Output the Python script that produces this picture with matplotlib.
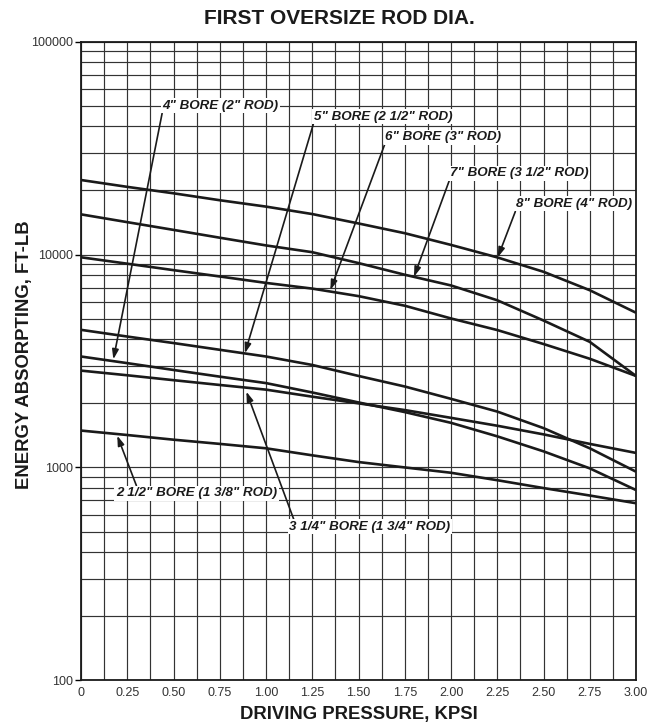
import numpy as np
import matplotlib
matplotlib.use("Agg")
import matplotlib.pyplot as plt

plt.rcParams['font.family'] = ['Liberation Sans', 'DejaVu Sans']

# driving pressure, kpsi
pressure = [0, 0.25, 0.5, 0.75, 1.0, 1.25, 1.5, 1.75, 2.0, 2.25, 2.5, 2.75, 3.0]

# energy absorbing, ft-lb
bore_8 = [22400, 20800, 19400, 18000, 16800, 15500, 14000, 12600, 11100, 9700, 8300, 6800, 5330]
bore_7 = [15450, 14200, 13060, 12000, 11040, 10260, 9120, 8040, 7160, 6100, 4900, 3890, 2690]
bore_6 = [9710, 9060, 8450, 7890, 7360, 6920, 6380, 5750, 5010, 4420, 3800, 3240, 2690]
bore_5 = [4430, 4120, 3840, 3570, 3320, 3030, 2690, 2400, 2100, 1830, 1530, 1230, 955]
bore_4 = [3320, 3090, 2870, 2670, 2490, 2250, 2020, 1820, 1620, 1400, 1190, 990, 783]
bore_3q = [2850, 2710, 2570, 2440, 2320, 2150, 2000, 1860, 1710, 1570, 1430, 1290, 1170]
bore_2h = [1490, 1420, 1350, 1290, 1230, 1140, 1060, 1000, 944, 871, 800, 738, 679]

curves = [bore_8, bore_7, bore_6, bore_5, bore_4, bore_3q, bore_2h]

# label text, label position (kpsi, ft-lb), arrow tip (kpsi, ft-lb), arrow start on the box
labels = ['4" BORE (2" ROD)', '5" BORE (2 1/2" ROD)', '6" BORE (3" ROD)',
          '7" BORE (3 1/2" ROD)', '8" BORE (4" ROD)',
          '2 1/2" BORE (1 3/8" ROD)', '3 1/4" BORE (1 3/4" ROD)']
label_pos = [(0.754, 50000), (1.633, 44500), (1.958, 35600), (2.368, 24100),
             (2.665, 17300), (0.625, 757), (1.562, 527)]
arrow_tip = [(0.175, 3220), (0.886, 3440), (1.348, 6820), (1.80, 7870),
             (2.253, 9710), (0.196, 1410), (0.894, 2270)]
arrow_rel = [(0.0, 0.0), (0.0, 0.0), (0.0, 0.0), (0.0, 0.0), (0.0, 0.0),
             (0.13, 1.0), (0.03, 1.0)]

fig = plt.figure(figsize=(6.49, 7.25), dpi=100)
ax = fig.add_axes([81 / 649, 1 - 680.3 / 725, 555 / 649, 638.6 / 725])

ax.set_yscale('log')
ax.set_xlim(0, 3)
ax.set_ylim(100, 100000)

ax.set_xticks(np.arange(0, 3.01, 0.25))
ax.set_xticks(np.arange(0, 3.01, 0.125), minor=True)
ax.set_xticklabels(['0'] + ['%.2f' % v for v in np.arange(0.25, 3.01, 0.25)])
ax.set_yticks([100, 1000, 10000, 100000])
ax.set_yticklabels(['100', '1000', '10000', '100000'])
ax.yaxis.set_minor_locator(matplotlib.ticker.LogLocator(base=10, subs=np.arange(2, 10)))
ax.yaxis.set_minor_formatter(matplotlib.ticker.NullFormatter())

ax.tick_params(axis='x', which='both', length=0, pad=5, labelsize=9, labelcolor='#333333')
ax.tick_params(axis='y', which='major', length=4, width=1, pad=2, labelsize=9, labelcolor='#333333')
ax.tick_params(axis='y', which='minor', length=0)

ax.grid(True, which='both', color='#333333', linewidth=0.85)
ax.set_axisbelow(True)
for s in ax.spines.values():
    s.set_linewidth(1.3)
    s.set_color('#1a1a1a')

for c in curves:
    ax.plot(pressure, c, color='#1a1a1a', linewidth=1.9, solid_capstyle='butt')

for txt, pos, tip, rel in zip(labels, label_pos, arrow_tip, arrow_rel):
    ax.annotate(txt, xy=tip, xytext=pos, ha='center', va='center',
                fontsize=9.6, fontweight='bold', fontstyle='italic', color='#1a1a1a',
                bbox=dict(boxstyle='square,pad=0.12', fc='white', ec='none'),
                arrowprops=dict(arrowstyle='-|>,head_length=0.6,head_width=0.2',
                                color='#1a1a1a', lw=1.2, shrinkA=0, shrinkB=0,
                                relpos=rel))

fig.text(339 / 649, 1 - 18.5 / 725, 'FIRST OVERSIZE ROD DIA.', ha='center', va='center',
         fontsize=15, fontweight='bold', color='#1a1a1a')
fig.text(358.5 / 649, 1 - 714 / 725, 'DRIVING PRESSURE, KPSI', ha='center', va='center',
         fontsize=13.3, fontweight='bold', color='#1a1a1a')
fig.text(25 / 649, 1 - 355 / 725, 'ENERGY ABSORPTING, FT-LB', ha='center', va='center',
         rotation=90, fontsize=13.3, fontweight='bold', color='#1a1a1a')

fig.savefig('out.png', dpi=100, facecolor='white')
